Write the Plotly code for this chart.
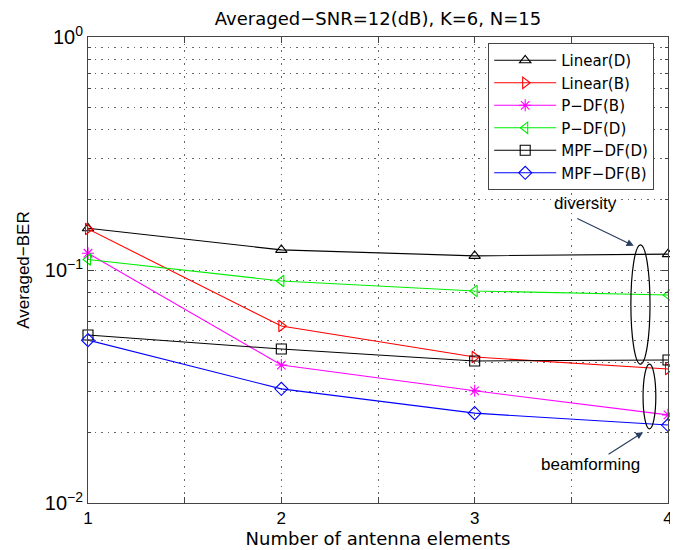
import plotly.graph_objects as go

antennas = [1, 2, 3, 4]
linear_d = [0.151, 0.122, 0.115, 0.117]
linear_b = [0.150, 0.0575, 0.0423, 0.0376]
pdf_b = [0.118, 0.0391, 0.0303, 0.0239]
pdf_d = [0.111, 0.0897, 0.0813, 0.0781]
mpfdf_d = [0.0526, 0.0458, 0.0407, 0.0411]
mpfdf_b = [0.0500, 0.0309, 0.0243, 0.0216]

series = [
    ("Linear(D)", linear_d, "black", "triangle-up-open"),
    ("Linear(B)", linear_b, "#ff0000", "triangle-right-open"),
    ("P\u2212DF(B)", pdf_b, "#ff00ff", "asterisk-open"),
    ("P\u2212DF(D)", pdf_d, "#00ee00", "triangle-left-open"),
    ("MPF\u2212DF(D)", mpfdf_d, "black", "square-open"),
    ("MPF\u2212DF(B)", mpfdf_b, "#0000ff", "diamond-open"),
]

WIDE = "DejaVu Sans, Verdana, sans-serif"
NARROW = "Liberation Sans, Arial, Helvetica, sans-serif"
GRID = dict(showgrid=True, griddash="1.5px,5px", gridcolor="#666", gridwidth=1)

fig = go.Figure()
for name, vals, color, sym in series:
    fig.add_trace(go.Scatter(
        x=antennas, y=vals, name=name, mode="lines+markers",
        line=dict(color=color, width=1.1),
        marker=dict(symbol=sym, size=10, color=color, line=dict(color=color, width=1.1)),
        cliponaxis=False,
    ))

minor_y = [m * 10 ** e for e in (-2, -1) for m in range(2, 10)]

# page body has an 8px margin, so the figure is 8px smaller than the window
fig.update_layout(
    width=670, height=542,
    margin=dict(l=80, r=10, t=29, b=47),
    paper_bgcolor="white", plot_bgcolor="white",
    font=dict(family=WIDE, size=16, color="black"),
    title=dict(text="Averaged\u2212SNR=12(dB), K=6, N=15", x=0.5, xanchor="center",
               xref="paper", y=0.980, yanchor="middle", font=dict(size=18, family=WIDE)),
    xaxis=dict(
        range=[1, 4], tickvals=[1, 2, 3, 4], ticktext=["1", "2", "3", "4"],
        showline=True, linecolor="#444", linewidth=1, mirror="allticks",
        ticks="inside", ticklen=6, tickcolor="#444",
        zeroline=False, automargin=False,
        minor=dict(tickvals=[1.5, 2.5, 3.5], ticks="inside", ticklen=6, tickcolor="#444", **GRID),
        title=dict(text="Number of antenna elements", standoff=0,
                   font=dict(size=18, family=WIDE)),
        tickfont=dict(size=17, family=NARROW),
        **GRID,
    ),
    yaxis=dict(
        type="log", range=[-2, 0],
        tickvals=[0.01, 0.1, 1],
        ticktext=["10<sup>\u22122</sup>", "10<sup>\u22121</sup>", "10<sup>0</sup>"],
        showline=True, linecolor="#444", linewidth=1, mirror="allticks",
        ticks="inside", ticklen=6, tickcolor="#444",
        zeroline=False, automargin=False,
        minor=dict(tickvals=minor_y, ticks="inside", ticklen=3, tickcolor="#444", **GRID),
        title=dict(text="Averaged\u2212BER", standoff=10, font=dict(size=17, family=NARROW)),
        tickfont=dict(size=20, family=NARROW),
        **GRID,
    ),
    legend=dict(
        x=0.69, y=0.987, xanchor="left", yanchor="top",
        bgcolor="white", bordercolor="#444", borderwidth=1,
        font=dict(size=15, family=WIDE), tracegroupgap=0, itemwidth=62,
    ),
    showlegend=True,
)

# ellipses marking groups (paper coordinates)
fig.add_shape(type="circle", xref="paper", yref="paper",
              x0=0.936, x1=0.969, y0=0.298, y1=0.554,
              line=dict(color="black", width=1.2))
fig.add_shape(type="circle", xref="paper", yref="paper",
              x0=0.957, x1=0.979, y0=0.159, y1=0.298,
              line=dict(color="black", width=1.2))

fig.add_annotation(xref="paper", yref="paper", x=0.941, y=0.552,
                   ax=-58, ay=-28, showarrow=True, arrowhead=2, arrowsize=1.2,
                   arrowwidth=1.2, text="")
fig.add_annotation(xref="paper", yref="paper", x=0.858, y=0.642, xanchor="center",
                   yanchor="middle", text="diversity", showarrow=False,
                   font=dict(size=17, family=NARROW))
fig.add_annotation(xref="paper", yref="paper", x=0.866, y=0.082, xanchor="center",
                   yanchor="middle", text="beamforming", showarrow=False,
                   font=dict(size=17, family=NARROW))
fig.add_annotation(xref="paper", yref="paper", x=0.957, y=0.152,
                   ax=-36, ay=23, showarrow=True, arrowhead=2, arrowsize=1.2,
                   arrowwidth=1.2, text="")

fig.write_html("out.html")
